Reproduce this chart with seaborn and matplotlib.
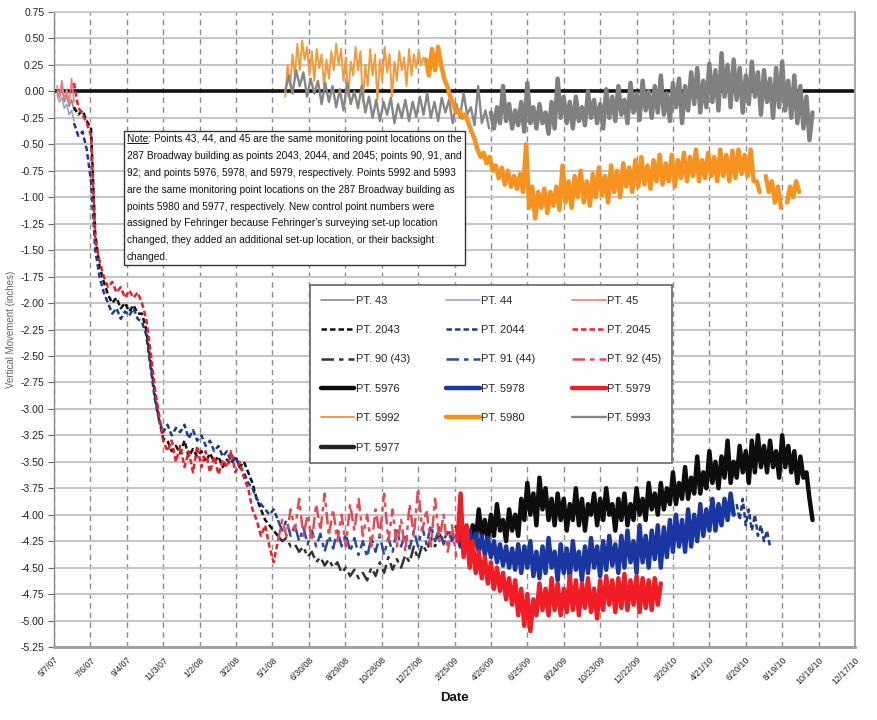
import numpy as np
import pandas as pd
import matplotlib
matplotlib.use("Agg")
import matplotlib.pyplot as plt
from matplotlib.lines import Line2D
from matplotlib.ticker import FormatStrFormatter
import seaborn as sns

sns.set_theme(style="white")
plt.rcParams["font.family"] = ["Liberation Sans", "DejaVu Sans"]

# ---------------------------------------------------------------------------
# Survey readings, vertical movement in inches.
# Each series: first reading date, spacing in days, readings.
# ---------------------------------------------------------------------------
pt43_start, pt43_step = "2007-05-12", 4
pt43 = [0.00, -0.06, 0.03, -0.10, -0.04, -0.14, -0.08, -0.18]

pt44_start, pt44_step = "2007-05-12", 4
pt44 = [-0.03, -0.10, -0.06, -0.16, -0.12, -0.22, -0.18, -0.28]

pt45_start, pt45_step = "2007-05-12", 4
pt45 = [0.05, -0.05, 0.10, -0.08, 0.02, -0.12, 0.12, -0.10]

pt2043_start, pt2043_step = "2007-06-09", 7
pt2043 = [-0.15, -0.22, -0.18, -0.28, -0.35, -1.35, -1.65, -1.80, -1.92, -2.00,
          -1.95, -2.05, -2.00, -2.08, -2.02, -2.10, -2.10, -2.25, -2.55, -2.85,
          -3.10, -3.28, -3.30, -3.40, -3.35, -3.42, -3.30, -3.45, -3.38, -3.45,
          -3.40, -3.50, -3.42, -3.50, -3.45, -3.55, -3.48, -3.52, -3.45, -3.55,
          -3.50, -3.60, -3.70, -3.85, -3.95, -4.05, -4.10, -4.15, -4.20]

pt2044_start, pt2044_step = "2007-06-09", 7
pt2044 = [-0.30, -0.42, -0.38, -0.55, -0.85, -1.50, -1.75, -1.90, -2.00, -2.10,
          -2.05, -2.15, -2.08, -2.12, -2.05, -2.15, -2.18, -2.30, -2.60, -2.90,
          -3.10, -3.22, -3.15, -3.25, -3.18, -3.22, -3.15, -3.28, -3.20, -3.30,
          -3.25, -3.35, -3.30, -3.40, -3.35, -3.45, -3.40, -3.50, -3.45, -3.55,
          -3.60, -3.70, -3.75, -3.85, -3.90, -3.95, -4.00, -3.95, -4.05]
pt2044_tail_start, pt2044_tail_step = "2010-06-05", 5
pt2044_tail = [-3.90, -4.05, -3.85, -4.10, -3.95, -4.15, -4.00, -4.20, -4.10,
               -4.25, -4.15, -4.30]

pt2045_start, pt2045_step = "2007-06-09", 7
pt2045 = [0.08, -0.15, -0.22, -0.30, -0.42, -1.40, -1.60, -1.75, -1.85, -1.80,
          -1.90, -1.85, -1.95, -1.88, -1.95, -1.90, -2.00, -2.15, -2.45, -2.80,
          -3.05, -3.30, -3.40, -3.30, -3.50, -3.35, -3.55, -3.40, -3.60, -3.35,
          -3.55, -3.40, -3.60, -3.45, -3.62, -3.48, -3.55, -3.40, -3.60, -3.50,
          -3.65, -3.75, -3.95, -4.05, -4.20, -4.10, -4.30, -4.45, -4.25]

pt90_start, pt90_step = "2008-05-10", 7
pt90 = [-4.20, -4.25, -4.22, -4.30, -4.28, -4.35, -4.30, -4.40, -4.35, -4.45,
        -4.40, -4.48, -4.42, -4.50, -4.45, -4.55, -4.50, -4.58, -4.52, -4.60,
        -4.55, -4.62, -4.50, -4.58, -4.45, -4.55, -4.40, -4.52, -4.42, -4.50,
        -4.38, -4.45, -4.30, -4.42, -4.28, -4.35, -4.22, -4.30, -4.18, -4.25,
        -4.15, -4.22, -4.10]

pt91_start, pt91_step = "2008-05-10", 7
pt91 = [-4.05, -4.15, -4.05, -4.20, -4.10, -4.25, -4.12, -4.28, -4.15, -4.30,
        -4.18, -4.35, -4.20, -4.32, -4.15, -4.30, -4.18, -4.35, -4.22, -4.38,
        -4.25, -4.40, -4.22, -4.35, -4.20, -4.38, -4.22, -4.35, -4.15, -4.30,
        -4.18, -4.32, -4.15, -4.30, -4.12, -4.28, -4.10, -4.25, -4.12, -4.28,
        -4.15, -4.25, -4.15]

pt92_start, pt92_step = "2008-05-10", 7
pt92 = [-4.25, -4.05, -4.20, -3.95, -4.15, -3.85, -4.20, -4.00, -4.25, -3.90,
        -4.15, -3.80, -4.20, -3.95, -4.25, -4.00, -4.30, -3.90, -4.15, -3.85,
        -4.20, -4.00, -4.30, -3.95, -4.20, -3.80, -4.25, -3.95, -4.30, -4.05,
        -4.35, -3.90, -4.20, -3.75, -4.15, -3.95, -4.30, -3.85, -4.25, -4.00,
        -4.35, -4.10, -4.40]

pt5976_start, pt5976_step = "2009-03-02", 5
pt5976 = [-4.20, -4.05, -4.30, -4.15, -4.35, -4.10, -4.25, -3.95, -4.20, -4.05,
          -4.25, -4.00, -4.20, -3.90, -4.15, -4.05, -4.25, -3.95, -4.15, -4.00,
          -4.20, -3.85, -4.05, -3.70, -4.00, -3.80, -4.10, -3.65, -3.95, -3.75,
          -4.05, -3.85, -4.10, -3.80, -4.05, -3.85, -4.15, -3.90, -4.05, -3.75,
          -4.10, -3.85, -4.15, -3.90, -4.00, -3.80, -4.10, -3.85, -4.05, -3.75,
          -4.00, -3.90, -4.15, -3.85, -4.05, -3.80, -4.10, -3.90, -4.05, -3.75,
          -4.00, -3.85, -4.05, -3.70, -3.95, -3.80, -4.00, -3.70, -3.95, -3.75,
          -3.90, -3.60, -3.90, -3.70, -3.85, -3.55, -3.85, -3.65, -3.80, -3.45,
          -3.80, -3.60, -3.75, -3.40, -3.70, -3.50, -3.75, -3.45, -3.65, -3.30,
          -3.70, -3.50, -3.65, -3.35, -3.60, -3.40, -3.70, -3.30, -3.60, -3.25,
          -3.55, -3.35, -3.60, -3.30, -3.55, -3.40, -3.65, -3.25, -3.55, -3.35,
          -3.60, -3.40, -3.70, -3.45, -3.65, -3.60, -3.85, -4.05]

pt5978_start, pt5978_step = "2009-03-02", 5
pt5978 = [-4.15, -4.30, -4.12, -4.28, -4.15, -4.32, -4.18, -4.35, -4.20, -4.38,
          -4.22, -4.40, -4.25, -4.45, -4.28, -4.48, -4.30, -4.50, -4.32, -4.52,
          -4.28, -4.55, -4.30, -4.50, -4.25, -4.58, -4.35, -4.60, -4.30, -4.55,
          -4.22, -4.50, -4.35, -4.62, -4.28, -4.55, -4.32, -4.60, -4.25, -4.52,
          -4.35, -4.62, -4.30, -4.55, -4.22, -4.50, -4.30, -4.58, -4.25, -4.52,
          -4.20, -4.48, -4.28, -4.55, -4.20, -4.50, -4.15, -4.45, -4.25, -4.55,
          -4.10, -4.45, -4.20, -4.50, -4.15, -4.42, -4.10, -4.50, -4.12, -4.40,
          -4.05, -4.35, -4.00, -4.30, -4.05, -4.35, -3.95, -4.30, -4.00, -4.25,
          -3.90, -4.20, -3.95, -4.15, -3.85, -4.15, -3.90, -4.10, -3.85, -4.05,
          -3.80, -4.00]

pt5979_start, pt5979_step = "2009-03-02", 5
pt5979 = [-4.25, -3.80, -4.40, -4.10, -4.50, -4.25, -4.55, -4.35, -4.60, -4.40,
          -4.65, -4.45, -4.70, -4.50, -4.72, -4.55, -4.80, -4.60, -4.85, -4.62,
          -4.95, -4.70, -5.05, -4.75, -5.10, -4.80, -4.95, -4.65, -4.90, -4.70,
          -4.95, -4.60, -4.90, -4.65, -4.95, -4.70, -4.92, -4.58, -4.90, -4.62,
          -4.95, -4.65, -4.88, -4.60, -4.92, -4.70, -4.98, -4.62, -4.90, -4.58,
          -4.85, -4.62, -4.92, -4.60, -4.88, -4.56, -4.90, -4.62, -4.85, -4.58,
          -4.92, -4.60, -4.88, -4.62, -4.90, -4.60, -4.85, -4.65]

pt5992_start, pt5992_step = "2008-05-22", 4
pt5992 = [-0.05, 0.25, 0.05, 0.35, 0.15, 0.45, 0.20, 0.48, 0.30, 0.42,
          0.15, 0.38, 0.10, 0.40, 0.22, 0.35, 0.05, 0.30, 0.12, 0.38,
          0.20, 0.45, 0.25, 0.40, 0.10, 0.32, -0.05, 0.28, 0.15, 0.42,
          0.20, 0.38, -0.10, 0.25, 0.05, 0.40, 0.15, 0.35, -0.08, 0.30,
          0.10, 0.42, 0.18, 0.35, -0.05, 0.28, 0.10, 0.38, 0.20, 0.32,
          0.05, 0.40, 0.15, 0.35, 0.22, 0.38, 0.25, 0.32, 0.28]

pt5980_start, pt5980_step = "2009-01-09", 5
pt5980 = [0.30, 0.15, 0.40, 0.20, 0.42, 0.25, 0.12, 0.05, -0.05, -0.12,
          -0.20, -0.18, -0.25, -0.22, -0.30, -0.38, -0.45, -0.55, -0.62, -0.58,
          -0.68, -0.62, -0.75, -0.70, -0.82, -0.72, -0.88, -0.75, -0.90, -0.80,
          -0.92, -0.78, -0.95, -0.50, -1.10, -0.90, -1.20, -0.95, -1.10, -0.92,
          -1.15, -0.95, -1.08, -0.90, -1.12, -0.70, -1.05, -0.85, -1.10, -0.80,
          -1.00, -0.75, -1.05, -0.85, -1.08, -0.78, -1.00, -0.72, -0.98, -0.80,
          -1.05, -0.70, -0.95, -0.75, -1.00, -0.68, -0.90, -0.72, -0.95, -0.65,
          -0.90, -0.62, -0.88, -0.70, -0.92, -0.65, -0.85, -0.60, -0.88, -0.68,
          -0.85, -0.60, -0.90, -0.65, -0.82, -0.58, -0.85, -0.62, -0.80, -0.55,
          -0.85, -0.65, -0.82, -0.58, -0.80, -0.62, -0.85, -0.55, -0.80, -0.60,
          -0.85, -0.56, -0.82, -0.55, -0.78, -0.60, -0.80, -0.55, -0.85]
pt5980_tail_a_start, pt5980_tail_a = "2010-07-08", [-0.85, -0.95]
pt5980_tail_b_start, pt5980_tail_b = "2010-07-23", [-0.80, -0.95, -0.85, -1.05, -0.90, -1.10]
pt5980_tail_c_start, pt5980_tail_c = "2010-08-27", [-1.05, -0.90, -1.00, -0.85, -0.95]
pt5980_tail_step = 5

pt5993_start, pt5993_step = "2008-05-22", 6
pt5993 = [0.00, 0.15, -0.02, 0.20, 0.05, 0.18, -0.05, 0.12, -0.02, 0.10,
          -0.12, 0.08, -0.10, 0.05, -0.15, 0.02, -0.18, 0.08, -0.12, 0.00,
          -0.16, 0.05, -0.20, -0.05, -0.25, -0.08, -0.28, -0.10, -0.22, -0.06,
          -0.30, -0.12, -0.25, -0.08, -0.28, -0.10, -0.24, -0.05, -0.22, -0.02,
          -0.25, -0.10, -0.28, -0.06, -0.20, -0.08, -0.30, -0.12, -0.25, -0.02,
          -0.22, -0.15, -0.32, 0.05, -0.30, -0.18, -0.35]

pt5977_start, pt5977_step = "2009-04-26", 5
pt5977 = [-0.20, -0.35, -0.15, -0.30, 0.05, -0.28, -0.12, -0.35, -0.18, -0.32,
          -0.10, -0.38, 0.08, -0.30, -0.15, -0.35, -0.12, -0.30, -0.20, -0.40,
          -0.10, -0.35, 0.12, -0.25, -0.05, -0.30, -0.10, -0.35, -0.05, -0.28,
          -0.15, -0.32, 0.00, -0.25, -0.08, -0.30, -0.12, -0.35, 0.02, -0.25,
          -0.05, -0.28, 0.05, -0.22, -0.08, -0.30, 0.08, -0.20, -0.02, -0.27,
          0.10, -0.18, 0.00, -0.25, 0.05, -0.20, 0.15, -0.22, -0.02, -0.28,
          0.08, -0.15, 0.12, -0.30, 0.05, -0.18, 0.18, -0.12, 0.22, -0.20,
          0.10, -0.15, 0.26, -0.10, 0.20, -0.18, 0.36, -0.05, 0.25, -0.15,
          0.30, -0.08, 0.22, -0.20, 0.15, -0.12, 0.28, -0.05, 0.18, -0.22,
          0.20, -0.10, 0.12, -0.25, 0.22, -0.15, 0.28, -0.18, 0.10, -0.25,
          0.15, -0.30, 0.05, -0.35, -0.05, -0.46, -0.20]

# ---------------------------------------------------------------------------
# Line styles
# ---------------------------------------------------------------------------
DASH = (2.2, 1.2)
DASH_DOT = (5, 2, 1.8, 2)
styles = {
    "PT. 43":      dict(color="#8c8c8c", lw=1.2, dashes=None),
    "PT. 44":      dict(color="#9aa6c0", lw=1.2, dashes=None),
    "PT. 45":      dict(color="#f07a80", lw=1.2, dashes=None),
    "PT. 2043":    dict(color="#111111", lw=1.8, dashes=DASH),
    "PT. 2044":    dict(color="#1c3a92", lw=1.8, dashes=DASH),
    "PT. 2045":    dict(color="#e8202a", lw=1.8, dashes=DASH),
    "PT. 90 (43)": dict(color="#333333", lw=1.8, dashes=DASH_DOT),
    "PT. 91 (44)": dict(color="#2c4aa0", lw=1.8, dashes=DASH_DOT),
    "PT. 92 (45)": dict(color="#e84a55", lw=1.8, dashes=DASH_DOT),
    "PT. 5976":    dict(color="#0d0d0d", lw=3.2, dashes=None),
    "PT. 5978":    dict(color="#1a36a0", lw=3.2, dashes=None),
    "PT. 5979":    dict(color="#f21c24", lw=3.2, dashes=None),
    "PT. 5992":    dict(color="#f59a3c", lw=1.4, dashes=None),
    "PT. 5980":    dict(color="#f7921e", lw=3.2, dashes=None),
    "PT. 5993":    dict(color="#868686", lw=1.7, dashes=None),
    "PT. 5977":    dict(color="#808080", lw=3.2, dashes=None),
}

series = [
    ("PT. 43", pt43_start, pt43_step, pt43),
    ("PT. 44", pt44_start, pt44_step, pt44),
    ("PT. 45", pt45_start, pt45_step, pt45),
    ("PT. 2043", pt2043_start, pt2043_step, pt2043),
    ("PT. 2044", pt2044_start, pt2044_step, pt2044),
    ("PT. 2045", pt2045_start, pt2045_step, pt2045),
    ("PT. 90 (43)", pt90_start, pt90_step, pt90),
    ("PT. 91 (44)", pt91_start, pt91_step, pt91),
    ("PT. 92 (45)", pt92_start, pt92_step, pt92),
    ("PT. 5992", pt5992_start, pt5992_step, pt5992),
    ("PT. 5993", pt5993_start, pt5993_step, pt5993),
    ("PT. 5977", pt5977_start, pt5977_step, pt5977),
    ("PT. 5980", pt5980_start, pt5980_step, pt5980),
    ("PT. 5976", pt5976_start, pt5976_step, pt5976),
    ("PT. 5978", pt5978_start, pt5978_step, pt5978),
    ("PT. 5979", pt5979_start, pt5979_step, pt5979),
]
extra_pieces = [
    ("PT. 2044", pt2044_tail_start, pt2044_tail_step, pt2044_tail),
    ("PT. 5980", pt5980_tail_a_start, pt5980_tail_step, pt5980_tail_a),
    ("PT. 5980", pt5980_tail_b_start, pt5980_tail_step, pt5980_tail_b),
    ("PT. 5980", pt5980_tail_c_start, pt5980_tail_step, pt5980_tail_c),
]


def frame(start, step, values):
    dates = pd.date_range(start, periods=len(values), freq=f"{step}D")
    return pd.DataFrame({"Date": dates, "Movement": values})


fig = plt.figure(figsize=(8.77, 7.2), dpi=100)
fig.patch.set_facecolor("white")
ax = fig.add_axes([54 / 877, 1 - 647 / 720, (855 - 54) / 877, (647 - 12) / 720])
ax.set_facecolor("white")

lines = {}


def draw(name, start, step, values, label):
    st = styles[name]
    sns.lineplot(data=frame(start, step, values), x="Date", y="Movement", ax=ax,
                 color=st["color"], linewidth=st["lw"], estimator=None,
                 sort=False, legend=False, label=label)
    ln = ax.lines[-1]
    if st["dashes"] is not None:
        ln.set_dashes(st["dashes"])
    ln.set_zorder(3)
    return ln


for name, start, step, values in series:
    lines[name] = draw(name, start, step, values, name)
for name, start, step, values in extra_pieces:
    draw(name, start, step, values, "_nolegend_")

ax.axhline(0, color="#111111", lw=2.6, zorder=2)

# axes, ticks, grid
x0, x1 = pd.Timestamp("2007-05-07"), pd.Timestamp("2010-12-17")
ax.set_xlim(x0, x1)
ax.set_ylim(-5.25, 0.75)
ticks = pd.date_range(x0, x1, freq="60D")
ax.set_xticks(ticks)
ax.set_xticklabels([f"{t.month}/{t.day}/{t:%y}" for t in ticks], rotation=45,
                   ha="right", rotation_mode="anchor", fontsize=6.3, color="#222")
ax.set_yticks(np.arange(-5.25, 0.751, 0.25))
ax.yaxis.set_major_formatter(FormatStrFormatter("%.2f"))
ax.tick_params(axis="y", labelsize=7.5, length=4, width=0.8, color="#666",
               labelcolor="#222", pad=3, left=True)
ax.tick_params(axis="x", length=0, pad=6)

ax.set_axisbelow(True)
ax.grid(axis="y", color="#c6c6c6", lw=1.5, ls="-")
ax.grid(axis="x", color="#8c8c8c", lw=1.0, ls=(0, (4, 3)))
for side, (c, w) in {"left": ("#888888", 1.0), "bottom": ("#a0a0a0", 2.0),
                     "right": ("#a8a8a8", 1.5), "top": ("#c6c6c6", 1.2)}.items():
    ax.spines[side].set_color(c)
    ax.spines[side].set_linewidth(w)
    ax.spines[side].set_visible(True)

ax.set_xlabel("Date", fontsize=9.5, fontweight="bold", labelpad=4, color="#111")
ax.set_ylabel("Vertical Movement (inches)", fontsize=7, color="#666")
ax.yaxis.set_label_coords(-38 / 801, 0.5)

# legend, laid out row by row
legend_order = ["PT. 43", "PT. 2043", "PT. 90 (43)", "PT. 5976", "PT. 5992", "PT. 5977",
                "PT. 44", "PT. 2044", "PT. 91 (44)", "PT. 5978", "PT. 5980",
                "PT. 45", "PT. 2045", "PT. 92 (45)", "PT. 5979", "PT. 5993"]
leg = ax.legend([lines[n] for n in legend_order], legend_order, ncol=3,
                loc="upper left", bbox_to_anchor=(310 / 877, 1 - 285 / 720),
                bbox_transform=fig.transFigure, fontsize=8, frameon=True,
                fancybox=False, framealpha=1, edgecolor="#666666",
                handlelength=3.0, handletextpad=0.15, labelspacing=1.75,
                columnspacing=3.3, borderpad=0.95, borderaxespad=0)
leg.get_frame().set_linewidth(1.2)
leg.set_zorder(6)
leg_lines = dict(zip(legend_order, leg.get_lines()))
leg_lines["PT. 5977"].set_color("#222222")

# note box
note = ("Note: Points 43, 44, and 45 are the same monitoring point locations on the\n"
        "287 Broadway building as points 2043, 2044, and 2045; points 90, 91, and\n"
        "92; and points 5976, 5978, and 5979, respectively. Points 5992 and 5993\n"
        "are the same monitoring point locations on the 287 Broadway building as\n"
        "points 5980 and 5977, respectively. New control point numbers were\n"
        "assigned by Fehringer because Fehringer's surveying set-up location\n"
        "changed, they added an additional set-up location, or their backsight\n"
        "changed.")
note_fs = 7.25
nx, ny = 127 / 877, 1 - 134 / 720
note_txt = fig.text(nx, ny, note, ha="left", va="top", fontsize=note_fs,
                    linespacing=1.86, color="#111", zorder=7,
                    bbox=dict(boxstyle="square,pad=0.3", fc="white",
                              ec="#333333", lw=1.0))
fig.canvas.draw()
renderer = fig.canvas.get_renderer()
probe = fig.text(nx, ny, "Note", ha="left", va="top", fontsize=note_fs, alpha=0)
bb = probe.get_window_extent(renderer)
uy = bb.y0 + 0.12 * bb.height
fig.add_artist(Line2D([bb.x0 / 877, bb.x1 / 877], [uy / 720, uy / 720],
                      transform=fig.transFigure, color="#111", lw=0.7, zorder=8))

fig.savefig("out.png", dpi=100, facecolor="white")
